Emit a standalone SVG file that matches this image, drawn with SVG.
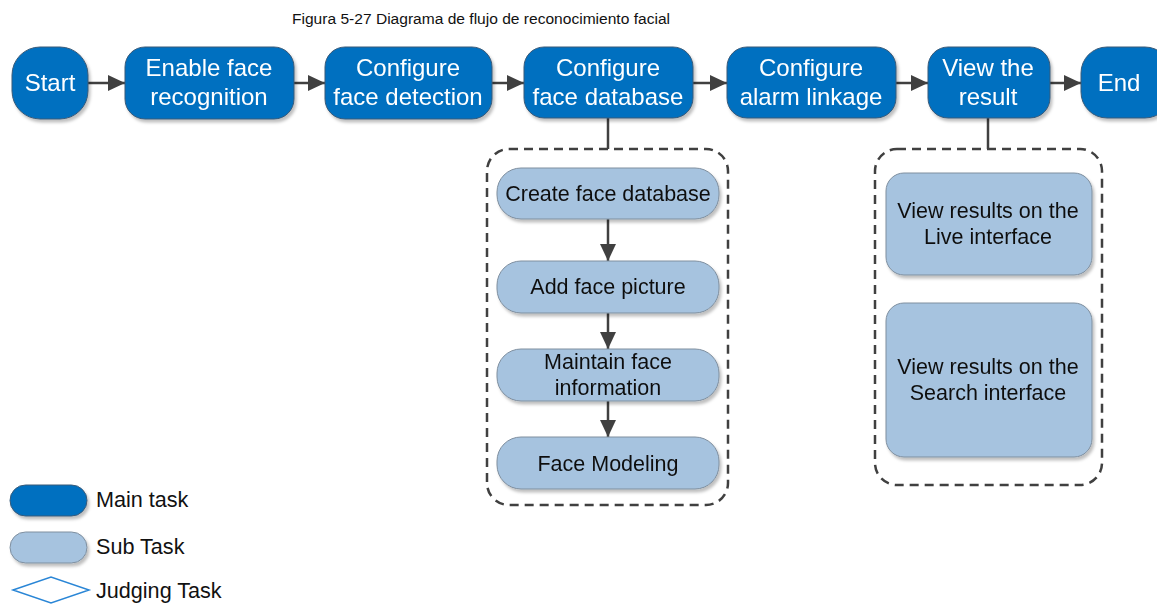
<svg xmlns="http://www.w3.org/2000/svg" width="1157" height="604" viewBox="0 0 1157 604">
<style>
.main rect{fill:#0070C0;stroke:#3a5a78;stroke-width:1}
.sub rect{fill:#A6C3DF;stroke:#7f8f9f;stroke-width:1}
.mt{fill:#fff;font-family:"Liberation Sans",Arial,sans-serif;font-size:24px;text-anchor:middle}
.st{fill:#111;font-family:"Liberation Sans",Arial,sans-serif;font-size:21.5px;text-anchor:middle}
.lt{fill:#111;font-family:"Liberation Sans",Arial,sans-serif;font-size:21.6px}
.conn line{stroke:#404040;stroke-width:2.5}
.dash{fill:none;stroke:#404040;stroke-width:2.5;stroke-dasharray:9 6}
</style>
<defs>
<marker id="ah" markerWidth="17" markerHeight="16" refX="17" refY="8" orient="auto" markerUnits="userSpaceOnUse" viewBox="0 0 17 16">
<path d="M0,0 L17,8 L0,16 z" fill="#404040"/>
</marker>
<filter id="sh" x="-10%" y="-10%" width="130%" height="140%">
<feDropShadow dx="2" dy="3" stdDeviation="1.5" flood-color="#000" flood-opacity="0.25"/>
</filter>
</defs>
<text x="292" y="24" font-family="Liberation Sans,Arial,sans-serif" font-size="14" fill="#111" textLength="378" lengthAdjust="spacingAndGlyphs">Figura 5-27 Diagrama de flujo de reconocimiento facial</text>

<rect class="dash" x="487" y="149" width="241" height="356" rx="22"/>
<rect class="dash" x="875" y="149" width="227" height="336" rx="22"/>

<g class="conn">
<line x1="88" y1="83" x2="125" y2="83" marker-end="url(#ah)"/>
<line x1="294" y1="83" x2="325" y2="83" marker-end="url(#ah)"/>
<line x1="492" y1="83" x2="524" y2="83" marker-end="url(#ah)"/>
<line x1="693" y1="83" x2="727" y2="83" marker-end="url(#ah)"/>
<line x1="896" y1="83" x2="928" y2="83" marker-end="url(#ah)"/>
<line x1="1050" y1="83" x2="1081" y2="83" marker-end="url(#ah)"/>
<line x1="608" y1="118" x2="608" y2="149"/>
<line x1="988" y1="118" x2="988" y2="149"/>
<line x1="608" y1="219" x2="608" y2="261" marker-end="url(#ah)"/>
<line x1="608" y1="313" x2="608" y2="349" marker-end="url(#ah)"/>
<line x1="608" y1="401" x2="608" y2="437" marker-end="url(#ah)"/>
</g>

<g id="start" class="main" filter="url(#sh)"><rect x="12" y="47" width="76" height="72" rx="28"/><text class="mt" x="50" y="91">Start</text></g>
<g id="enable" class="main" filter="url(#sh)"><rect x="125" y="47" width="169" height="72" rx="20"/><text class="mt" x="209" y="76">Enable face</text><text class="mt" x="209" y="105">recognition</text></g>
<g id="detect" class="main" filter="url(#sh)"><rect x="325" y="47" width="167" height="72" rx="20"/><text class="mt" x="408" y="76">Configure</text><text class="mt" x="408" y="105">face detection</text></g>
<g id="database" class="main" filter="url(#sh)"><rect x="524" y="47" width="169" height="71" rx="20"/><text class="mt" x="608" y="76">Configure</text><text class="mt" x="608" y="105">face database</text></g>
<g id="alarm" class="main" filter="url(#sh)"><rect x="727" y="47" width="169" height="71" rx="20"/><text class="mt" x="811" y="76">Configure</text><text class="mt" x="811" y="105">alarm linkage</text></g>
<g id="view" class="main" filter="url(#sh)"><rect x="928" y="47" width="122" height="71" rx="20"/><text class="mt" x="988" y="76">View the</text><text class="mt" x="988" y="105">result</text></g>
<g id="end" class="main" filter="url(#sh)"><rect x="1081" y="47" width="90" height="71" rx="26"/><text class="mt" x="1119" y="91">End</text></g>

<g id="create" class="sub" filter="url(#sh)"><rect x="497" y="168" width="222" height="51" rx="24"/><text class="st" x="608" y="201">Create face database</text></g>
<g id="add" class="sub" filter="url(#sh)"><rect x="497" y="261" width="222" height="52" rx="24"/><text class="st" x="608" y="294">Add face picture</text></g>
<g id="maintain" class="sub" filter="url(#sh)"><rect x="497" y="349" width="222" height="52" rx="24"/><text class="st" x="608" y="369">Maintain face</text><text class="st" x="608" y="395">information</text></g>
<g id="modeling" class="sub" filter="url(#sh)"><rect x="497" y="437" width="222" height="52" rx="24"/><text class="st" x="608" y="471">Face Modeling</text></g>
<g id="live" class="sub" filter="url(#sh)"><rect x="886" y="173" width="206" height="102" rx="18"/><text class="st" x="988" y="218">View results on the</text><text class="st" x="988" y="244">Live interface</text></g>
<g id="search" class="sub" filter="url(#sh)"><rect x="886" y="303" width="206" height="154" rx="18"/><text class="st" x="988" y="374">View results on the</text><text class="st" x="988" y="400">Search interface</text></g>

<g id="legend">
<g class="main" filter="url(#sh)"><rect x="10" y="485" width="77" height="31" rx="15.5"/></g>
<text class="lt" x="96" y="507">Main task</text>
<g class="sub" filter="url(#sh)"><rect x="10" y="532" width="77" height="31" rx="15.5"/></g>
<text class="lt" x="96" y="554">Sub Task</text>
<polygon points="13,590 51,577 89,590 51,603" fill="#fff" stroke="#2a86d6" stroke-width="1.5"/>
<text class="lt" x="96" y="598">Judging Task</text>
</g>
</svg>
